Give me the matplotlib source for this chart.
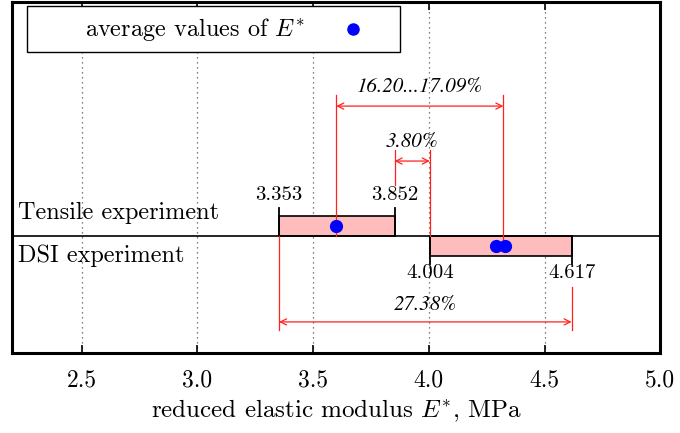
import matplotlib
matplotlib.use("Agg")
import matplotlib.pyplot as plt
from matplotlib.patches import Rectangle

plt.rcParams['font.family'] = 'serif'
plt.rcParams['font.serif'] = ['cmr10']
plt.rcParams['mathtext.fontset'] = 'cm'
plt.rcParams['axes.formatter.use_mathtext'] = True

# ranges of E* (MPa) for both experiments
experiments = ["Tensile experiment", "DSI experiment"]
tensile_range = [3.353, 3.852]
dsi_range = [4.004, 4.617]
tensile_avg = [3.60]
dsi_avg = [4.29, 4.33]
dsi_avg_ref = 4.322
pct_labels = ["16.20...17.09%", "3.80%", "27.38%"]
xticks = [2.5, 3.0, 3.5, 4.0, 4.5, 5.0]

red = '#ff2020'
pink = '#ffbcbc'

fig = plt.figure(figsize=(6.8, 4.33), dpi=100)
ax = fig.add_axes([0.018, 0.185, 0.953, 0.81])
ax.set_xlim(2.2, 5.0)
ax.set_ylim(-5.85, 11.7)

for x in xticks[:-1]:
    ax.axvline(x, color='#555555', ls=(0, (1, 3)), lw=0.9, zorder=0)

# bars
ax.add_patch(Rectangle((tensile_range[0], 0), tensile_range[1] - tensile_range[0], 1,
                       facecolor=pink, edgecolor='black', lw=1.2, zorder=2))
ax.add_patch(Rectangle((dsi_range[0], -1), dsi_range[1] - dsi_range[0], 1,
                       facecolor=pink, edgecolor='black', lw=1.2, zorder=2))
ax.axhline(0, color='black', lw=1.2, zorder=3)

# end markers and value labels
for x in tensile_range:
    ax.plot([x, x], [0, 1.4], color='black', lw=1.3, zorder=3)
    ax.text(x, 2.05, f"{x:.3f}", ha='center', va='center', fontsize=15)
for x in dsi_range:
    ax.plot([x, x], [0, -1.4], color='black', lw=1.3, zorder=3)
    ax.text(x, -1.85, f"{x:.3f}", ha='center', va='center', fontsize=15)

# averages
ax.plot(tensile_avg, [0.5] * len(tensile_avg), 'o', color='blue', ms=8.5, zorder=5)
ax.plot(dsi_avg, [-0.5] * len(dsi_avg), 'o', color='blue', ms=8.5, zorder=5)


def dim(x0, x1, y, label, ty):
    ax.annotate('', xy=(x0, y), xytext=(x1, y),
                arrowprops=dict(arrowstyle='<->', color=red, lw=0.9,
                                shrinkA=0, shrinkB=0, mutation_scale=11))
    ax.text((x0 + x1) / 2, ty, label, ha='center', va='center', fontsize=15,
            family='STIXGeneral', style='italic')


# difference between averages
ax.plot([tensile_avg[0]] * 2, [0, 7.05], color=red, lw=0.9, zorder=4)
ax.plot([dsi_avg_ref] * 2, [-0.5, 7.05], color=red, lw=0.9, zorder=4)
dim(tensile_avg[0], dsi_avg_ref, 6.5, pct_labels[0], 7.45)

# gap between ranges
ax.plot([tensile_range[1]] * 2, [2.55, 4.3], color=red, lw=0.9, zorder=4)
ax.plot([dsi_range[0]] * 2, [0, 4.3], color=red, lw=0.9, zorder=4)
dim(tensile_range[1], dsi_range[0], 3.75, pct_labels[1], 4.7)

# full spread
ax.plot([tensile_range[0]] * 2, [0, -4.7], color=red, lw=0.9, zorder=4)
ax.plot([dsi_range[1]] * 2, [-2.55, -4.7], color=red, lw=0.9, zorder=4)
dim(tensile_range[0], dsi_range[1], -4.3, pct_labels[2], -3.45)

# row labels
ax.text(2.225, 1.15, experiments[0], ha='left', va='center', fontsize=17.5)
ax.text(2.225, -1.0, experiments[1], ha='left', va='center', fontsize=17.5)

# legend box
ax.add_patch(Rectangle((0.023, 0.858), 0.576, 0.131, transform=ax.transAxes,
                       facecolor='white', edgecolor='black', lw=1.0, zorder=6))
ax.text(0.282, 0.923, r'average values of $E^{*}$', transform=ax.transAxes,
        ha='center', va='center', fontsize=17.5, zorder=7)
ax.plot([0.526], [0.923], 'o', color='blue', ms=8, transform=ax.transAxes, zorder=7)

ax.set_xticks(xticks)
ax.set_xticklabels([f"{t:.1f}" for t in xticks])
ax.set_yticks([])
ax.tick_params(axis='x', direction='in', length=6, width=1.2, top=True,
               labelsize=17, pad=12)
for s in ax.spines.values():
    s.set_linewidth(2.2)
ax.set_xlabel(r'reduced elastic modulus $E^{*}$, MPa', fontsize=18, labelpad=4)

fig.savefig('out.png', dpi=100)
